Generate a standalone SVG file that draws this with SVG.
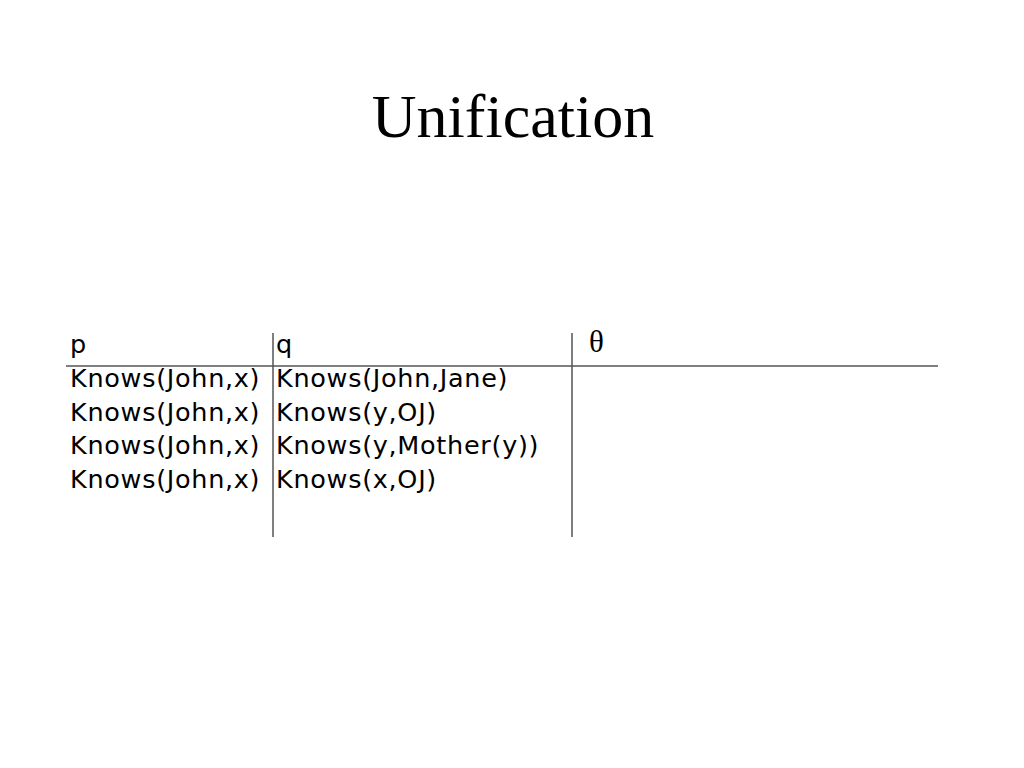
<svg xmlns="http://www.w3.org/2000/svg" width="1024" height="768" viewBox="0 0 1024 768">
<style>
.t{font-family:"DejaVu Sans",Verdana,sans-serif;font-size:25.5px;letter-spacing:0.7px;fill:#000}
.title{font-family:"Liberation Serif","Times New Roman",serif;font-size:62px;fill:#000}
.th{font-family:"Liberation Serif","Times New Roman",serif;font-size:31px;fill:#000}
.ln{stroke:#555;stroke-width:1.5;fill:none}
</style>
<rect width="1024" height="768" fill="#fff"/>
<text id="title" class="title" x="513" y="137" text-anchor="middle">Unification</text>
<g id="table-lines">
<line class="ln" x1="66" y1="366" x2="938" y2="366"/>
<line class="ln" x1="273" y1="333" x2="273" y2="537"/>
<line class="ln" x1="572" y1="333" x2="572" y2="537"/>
</g>
<g id="header">
<text class="t" x="70" y="353">p</text>
<text class="t" x="276" y="353">q</text>
<text class="th" x="589" y="352">θ</text>
</g>
<g id="col-p">
<text class="t" x="70" y="387">Knows(John,x)</text>
<text class="t" x="70" y="420.5">Knows(John,x)</text>
<text class="t" x="70" y="454">Knows(John,x)</text>
<text class="t" x="70" y="487.5">Knows(John,x)</text>
</g>
<g id="col-q">
<text class="t" x="276" y="387">Knows(John,Jane)</text>
<text class="t" x="276" y="420.5">Knows(y,OJ)</text>
<text class="t" x="276" y="454">Knows(y,Mother(y))</text>
<text class="t" x="276" y="487.5">Knows(x,OJ)</text>
</g>
</svg>
